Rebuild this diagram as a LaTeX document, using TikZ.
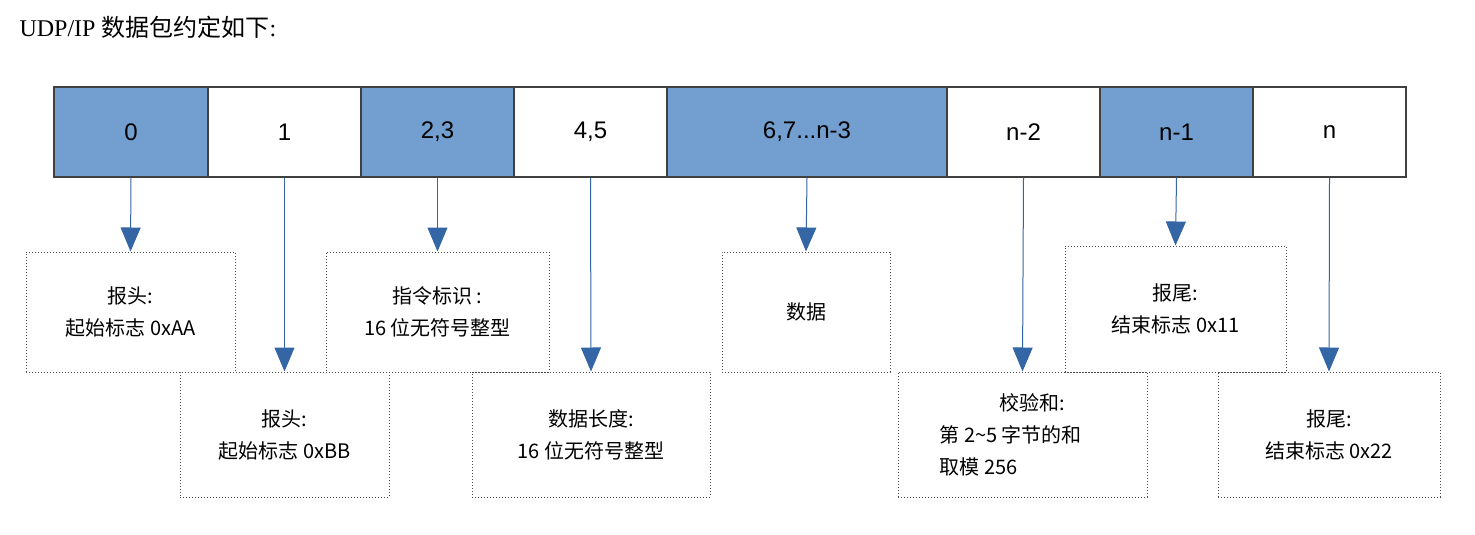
\documentclass[tikz,border=0pt]{standalone}
\usepackage{fontspec}
\setmainfont{Liberation Serif}
\newfontfamily\cjk{Noto Sans CJK SC}
\newfontfamily\cjkserif{Noto Sans CJK SC}
\newfontfamily\numfont{Liberation Sans}
\usetikzlibrary{arrows.meta}
\definecolor{cellblue}{HTML}{729FCF}
\definecolor{arrowblue}{HTML}{3465A4}
\tikzset{
  cell/.style={draw=black!75,line width=1.2pt,minimum height=90pt,inner sep=0pt,font=\numfont\fontsize{24}{24}\selectfont},
  bluecell/.style={cell,fill=cellblue},
  note/.style={draw=black!70,dotted,line width=1pt,inner sep=0pt,align=center,font=\cjk\fontsize{20}{32}\selectfont},
  link/.style={arrowblue,line width=1pt,-{Triangle[width=20pt,length=24pt]}}
}
\begin{document}
\begin{tikzpicture}[x=1pt,y=-1pt]
        \useasboundingbox (0,0) rectangle (1475,535);
        \node[anchor=west,font=\fontsize{24}{24}\selectfont] (title) at (16,27) {UDP/IP {\cjkserif 数据包约定如下}:};
        % the frame row
        \node[bluecell,minimum width=154pt] (c0) at (131,132) {0};
        \node[cell,minimum width=153pt] (c1) at (284.5,132) {1};
        \node[bluecell,minimum width=153pt] (c2) at (437.5,132) {2,3};
        \node[cell,minimum width=153pt] (c3) at (590.5,132) {4,5};
        \node[bluecell,minimum width=280pt] (c4) at (807,132) {6,7...n-3};
        \node[cell,minimum width=153pt] (c5) at (1023.5,132) {n-2};
        \node[bluecell,minimum width=153pt] (c6) at (1176.5,132) {n-1};
        \node[cell,minimum width=153pt] (c7) at (1329.5,132) {n};
        % the notes
        \node[note,minimum width=209pt,minimum height=120pt] (b0) at (130.5,312) {报头:\\起始标志 0xAA};
        \node[note,minimum width=209pt,minimum height=125pt] (b1) at (284.5,434.5) {报头:\\起始标志 0xBB};
        \node[note,minimum width=223pt,minimum height=120pt] (b2) at (437.5,312) {指令标识 :\\16 位无符号整型};
        \node[note,minimum width=238pt,minimum height=125pt] (b3) at (591,434.5) {数据长度:\\16 位无符号整型};
        \node[note,minimum width=168pt,minimum height=120pt] (b4) at (806,312) {数据};
        \node[note,minimum width=249pt,minimum height=125pt,align=left] (b5) at (1022.5,434.5)
          {\hspace*{60pt}校验和:\\第 2\textasciitilde5 字节的和\\取模 256\hspace*{88pt}};
        \node[note,minimum width=221pt,minimum height=126pt] (b6) at (1175.5,309) {报尾:\\结束标志 0x11};
        \node[note,minimum width=222pt,minimum height=125pt] (b7) at (1329,434.5) {报尾:\\结束标志 0x22};
        \foreach \i in {0,...,7}
          \draw[link] (c\i.south) -- (b\i.north);
\end{tikzpicture}
\end{document}
